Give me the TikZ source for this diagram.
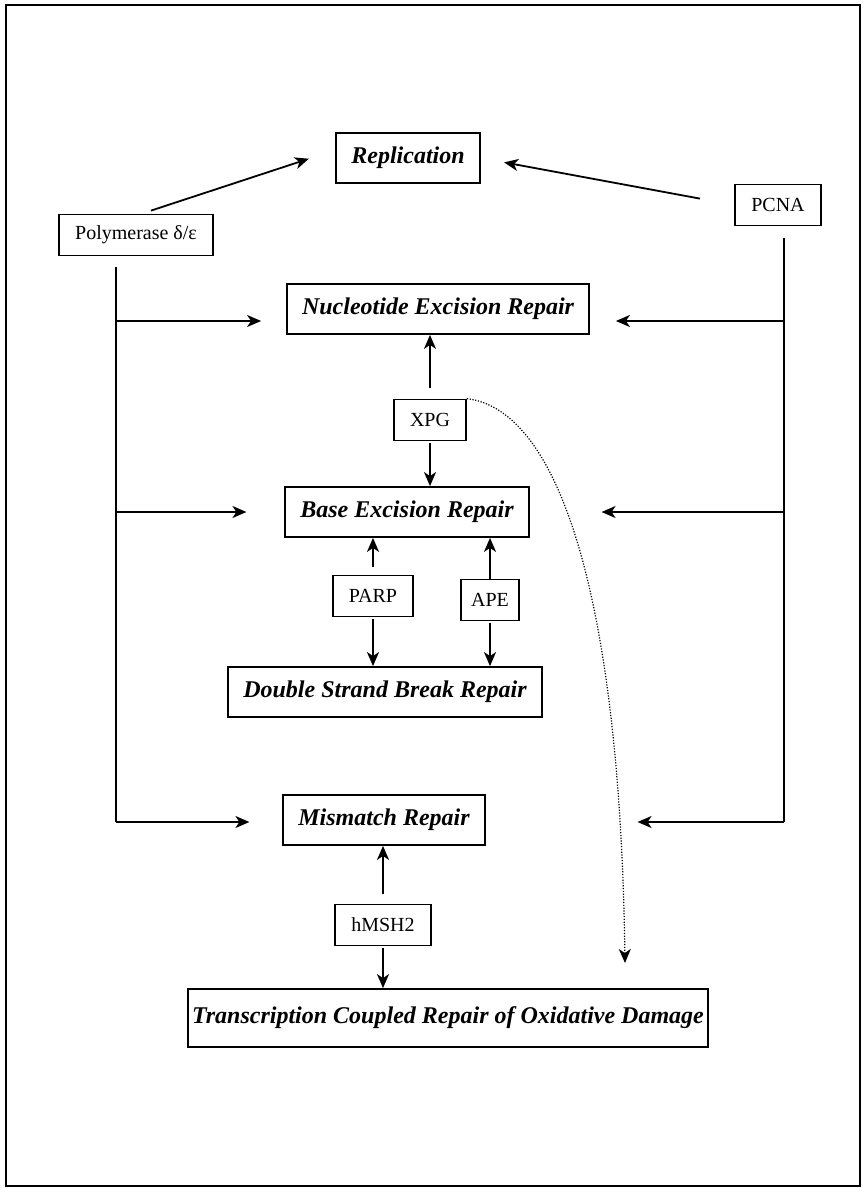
\documentclass[tikz,border=0pt]{standalone}
\usepackage{fontspec}
\setmainfont{Liberation Serif}
\usetikzlibrary{arrows.meta}

\tikzset{
  via/.style={draw, line width=1.8pt, font=\fontsize{24}{28}\selectfont\bfseries\itshape,
    inner xsep=15pt, minimum height=50pt},
  fator/.style={draw, line width=1.8pt, font=\fontsize{20}{24}\selectfont,
    inner xsep=16pt, minimum height=41pt},
  seta/.style={line width=1.8pt, -{Stealth[length=14pt,width=12pt,inset=4pt]}},
}

\begin{document}
\begin{tikzpicture}[x=1pt,y=-1pt]
    \useasboundingbox (0,0) rectangle (862,1188);
    % Moldura
    \draw[line width=1.8pt] (6,5) rectangle (860,1186);
    % Vias de reparo
    \node[via] (rep) at (408,158) {Replication};
    \node[via] (ner) at (438,309) {Nucleotide Excision Repair};
    \node[via] (ber) at (407,512) {Base Excision Repair};
    \node[via] (dsb) at (385,692) {Double Strand Break Repair};
    \node[via] (mmr) at (384,820) {Mismatch Repair};
    \node[via, inner xsep=4pt, minimum height=58pt] (tcr) at (448,1018)
        {Transcription Coupled Repair of Oxidative Damage};
    % Proteinas
    \node[fator] (pol) at (136,235) {Polymerase δ/ε};
    \node[fator] (pcna) at (778,205) {PCNA};
    \node[fator] (xpg) at (430,420) {XPG};
    \node[fator] (parp) at (373,596) {PARP};
    \node[fator, inner xsep=10pt] (ape) at (490,600) {APE};
    \node[fator] (msh) at (383,925) {hMSH2};
    % Replicacao
    \draw[seta, shorten >=28pt] ([xshift=15pt,yshift=3pt]pol.north) -- ([yshift=8pt]rep.west);
    \draw[seta, shorten <=35pt, shorten >=24pt] (pcna.west) -- (rep.east);
    % Linhas verticais
    \coordinate (pol0) at (116,267);
    \coordinate (pol1) at (116,822);
    \coordinate (pcna0) at (784,238);
    \coordinate (pcna1) at (784,822);
    \draw[line width=1.8pt] (pol0) -- (pol1);
    \draw[line width=1.8pt] (pcna0) -- (pcna1);
    \foreach \alvo/\y/\esq/\dir in {ner/321/25pt/26pt, ber/512/38pt/72pt, mmr/822/33pt/152pt}{
        \draw[seta, shorten >=\esq] (pol0 |- 0,\y) -- (\alvo.west |- 0,\y);
        \draw[seta, shorten >=\dir] (pcna0 |- 0,\y) -- (\alvo.east |- 0,\y);
    }
    % XPG, PARP, APE, hMSH2
    \draw[seta, shorten <=11pt] (xpg.north) -- (xpg.north |- ner.south);
    \draw[seta, shorten <=2pt] (xpg.south) -- (xpg.south |- ber.north);
    \draw[seta, shorten <=8pt] (parp.north) -- (parp.north |- ber.south);
    \draw[seta] (ape.north) -- (ape.north |- ber.south);
    \draw[seta, shorten <=2pt] (parp.south) -- (parp.south |- dsb.north);
    \draw[seta, shorten <=2pt] (ape.south) -- (ape.south |- dsb.north);
    \draw[seta, shorten <=10pt] (msh.north) -- (msh.north |- mmr.south);
    \draw[seta, shorten <=2pt] (msh.south) -- (msh.south |- tcr.north);
    % Ligacao pontilhada
    \coordinate (fim) at (625,963);
    \draw[line width=1.2pt, dash pattern=on 1.2pt off 1.6pt,
        -{Stealth[length=14pt,width=12pt,inset=4pt]}]
        (xpg.north east) .. controls (560,410) and (620,600) .. (fim);
\end{tikzpicture}
\end{document}
